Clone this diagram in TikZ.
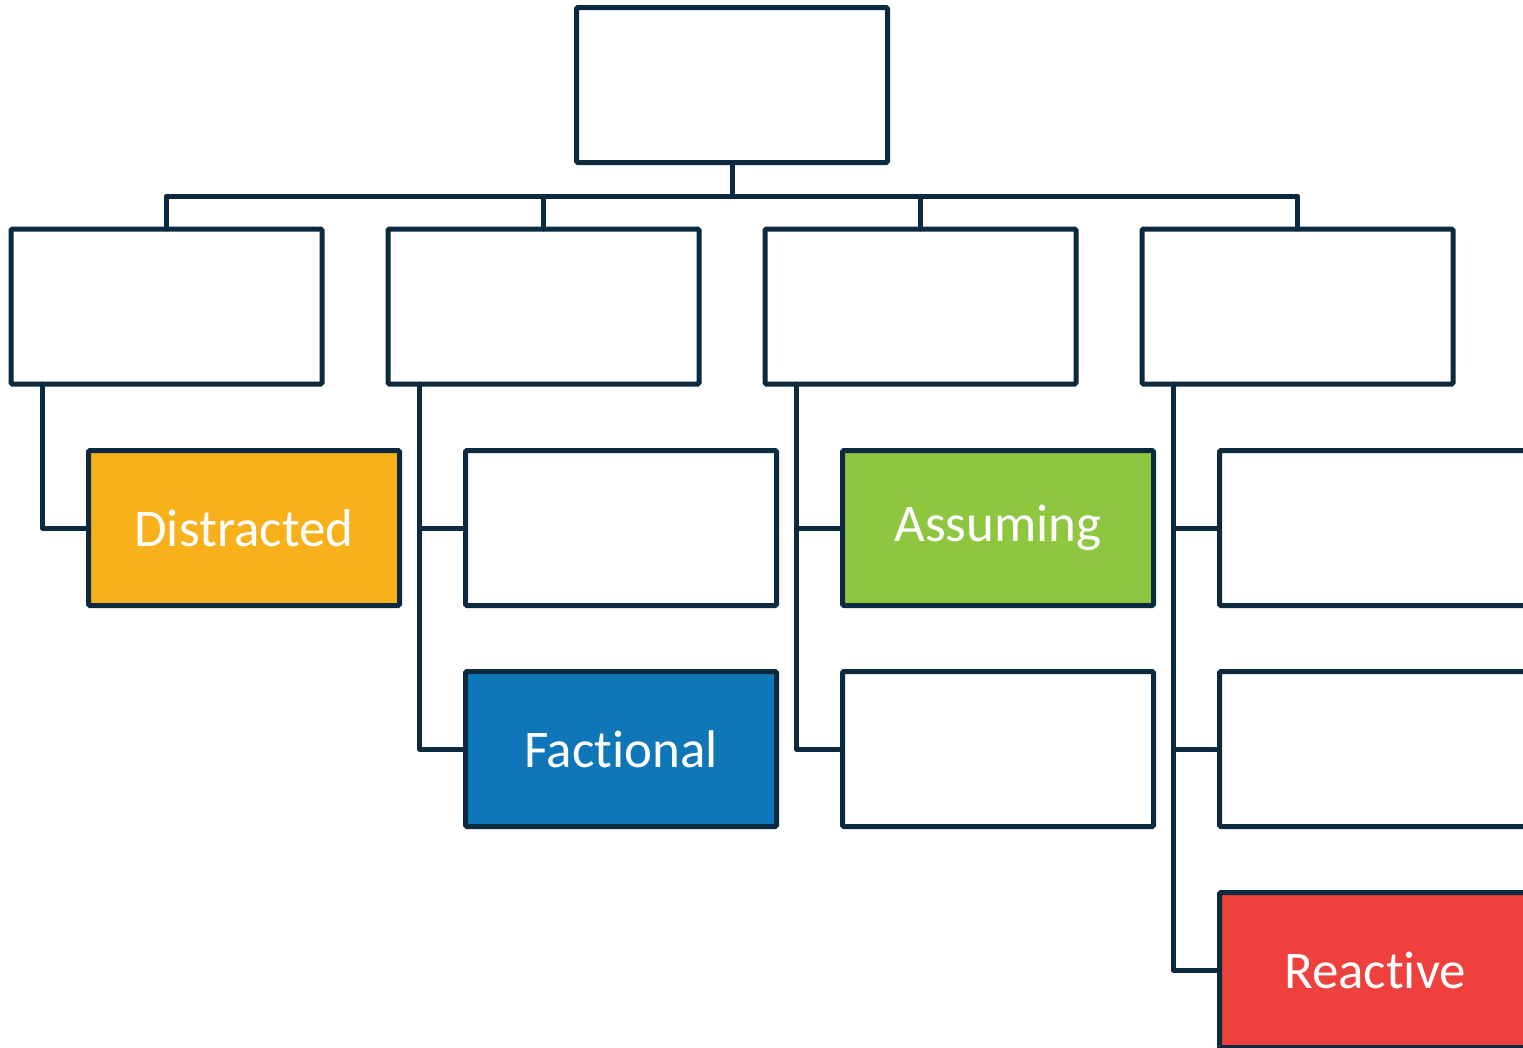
\documentclass[tikz,border=0pt]{standalone}
\usepackage{fontspec}
\setmainfont[Ligatures={NoCommon}]{Carlito}
\definecolor{navy}{HTML}{0B2A40}
\definecolor{corange}{HTML}{F9B11B}
\definecolor{cblue}{HTML}{0F77B8}
\definecolor{cgreen}{HTML}{8FC640}
\definecolor{cred}{HTML}{EE403D}
\tikzset{
  box/.style={draw=navy, line width=5pt, rounded corners=1.5pt, fill=white,
    minimum width=311pt, minimum height=155pt, inner sep=0pt, outer sep=0pt,
    text=white, font=\fontsize{53}{60}\selectfont},
  link/.style={draw=navy, line width=5pt, line join=round, line cap=round}
}
\begin{document}
\begin{tikzpicture}[x=1pt,y=-1pt]
\useasboundingbox (0,0) rectangle (1523,1047);
\clip (0,0) rectangle (1523,1047);
\fill[white] (0,0) rectangle (1523,1047);
% top
\node[box] (top) at (732,85) {};
% level 2
\node[box] (a) at (166.5,306.5) {};
\node[box] (b) at (543.5,306.5) {};
\node[box] (c) at (920.5,306.5) {};
\node[box] (d) at (1297.5,306.5) {};
\coordinate (bus) at (732,196);
% level 3
\node[box, fill=corange] (a1) at (244,528) {Distracted};
\node[box] (b1) at (621,528) {};
\node[box, fill=cblue] (b2) at (621,749) {Factional};
\node[box, fill=cgreen] (c1) at (998,528) {Assuming};
\node[box] (c2) at (998,749) {};
\node[box] (d1) at (1375,528) {};
\node[box] (d2) at (1375,749) {};
\node[box, fill=cred] (d3) at (1375,970) {Reactive};
% connectors
\draw[link] (top.south) -- (bus);
\draw[link] (a.north) |- (bus);
\draw[link] (b.north) |- (bus);
\draw[link] (c.north) |- (bus);
\draw[link] (d.north) |- (bus);
\draw[link] ([xshift=31.5pt]a.south west) |- (a1.west);
\draw[link] ([xshift=31.5pt]b.south west) |- (b2.west);
\draw[link] ([xshift=31.5pt]b.south west |- b1.west) -- (b1.west);
\draw[link] ([xshift=31.5pt]c.south west) |- (c2.west);
\draw[link] ([xshift=31.5pt]c.south west |- c1.west) -- (c1.west);
\draw[link] ([xshift=31.5pt]d.south west) |- (d3.west);
\draw[link] ([xshift=31.5pt]d.south west |- d1.west) -- (d1.west);
\draw[link] ([xshift=31.5pt]d.south west |- d2.west) -- (d2.west);
\end{tikzpicture}
\end{document}
